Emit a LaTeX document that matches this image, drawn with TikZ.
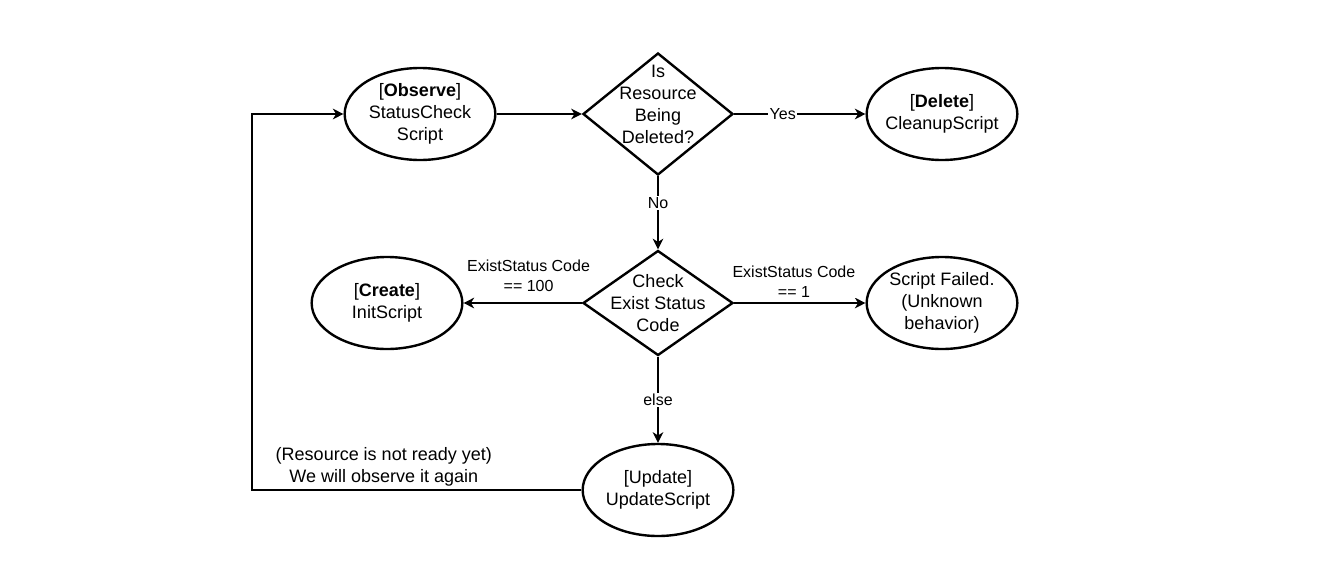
\documentclass[tikz,border=0pt]{standalone}
\usepackage{fontspec}
\setmainfont{Liberation Sans}
\usetikzlibrary{shapes.geometric,arrows.meta}

\tikzset{
  script/.style={ellipse, draw, line width=1.8pt, minimum width=113pt, minimum height=69pt, inner sep=-6pt, align=center, font=\fontsize{13.5}{16.5}\selectfont},
  decision/.style={diamond, draw, line width=1.8pt, minimum width=112.5pt, inner sep=-14pt, align=center, font=\fontsize{13.5}{16.5}\selectfont},
  flow/.style={line width=1pt, -{Stealth[length=8pt,width=8pt,inset=2.5pt]}},
  tag/.style={fill=white, inner sep=1pt, align=center, font=\fontsize{12}{15}\selectfont}
}

\begin{document}
\begin{tikzpicture}[x=0.75pt,y=-0.75pt]
\useasboundingbox (0,0) rectangle (1317,578);
\node [script] (observe) at (420,114) {[\textbf{Observe}]\\StatusCheck\\Script};
\node [decision, minimum height=91.5pt] (deleted) at (658,114) {Is\\Resource\\Being\\Deleted?\rule[-15pt]{0pt}{15pt}};
\node [script] (delete) at (942,114) {[\textbf{Delete}]\\CleanupScript};
\node [decision, minimum height=78.75pt] (check) at (658,303) {Check\\Exist Status\\Code};
\node [script] (create) at (387,303) {[\textbf{Create}]\\InitScript};
\node [script] (failed) at (942,303) {Script Failed.\\(Unknown\\behavior)};
\node [script] (update) at (658,490) {[Update]\\UpdateScript};
\coordinate (corner) at (252,490);
\draw [flow] (observe) -- (deleted);
\draw [flow] (deleted) -- node[tag, pos=0.37]{Yes} (delete);
\draw [flow] (deleted) -- node[tag, pos=0.37]{No} (check);
\draw [flow] (check) -- node[tag, pos=0.45, above=7pt]{ExistStatus Code\\== 100} (create);
\draw [flow] (check) -- node[tag, pos=0.455, above=3pt]{ExistStatus Code\\== 1} (failed);
\draw [flow] (check) -- node[tag]{else} (update);
\draw [flow] (update) -- node[tag, pos=0.6, above=1pt, font=\fontsize{13.5}{16.5}\selectfont]{(Resource is not ready yet)\\We will observe it again} (corner) |- (observe);
\end{tikzpicture}
\end{document}
